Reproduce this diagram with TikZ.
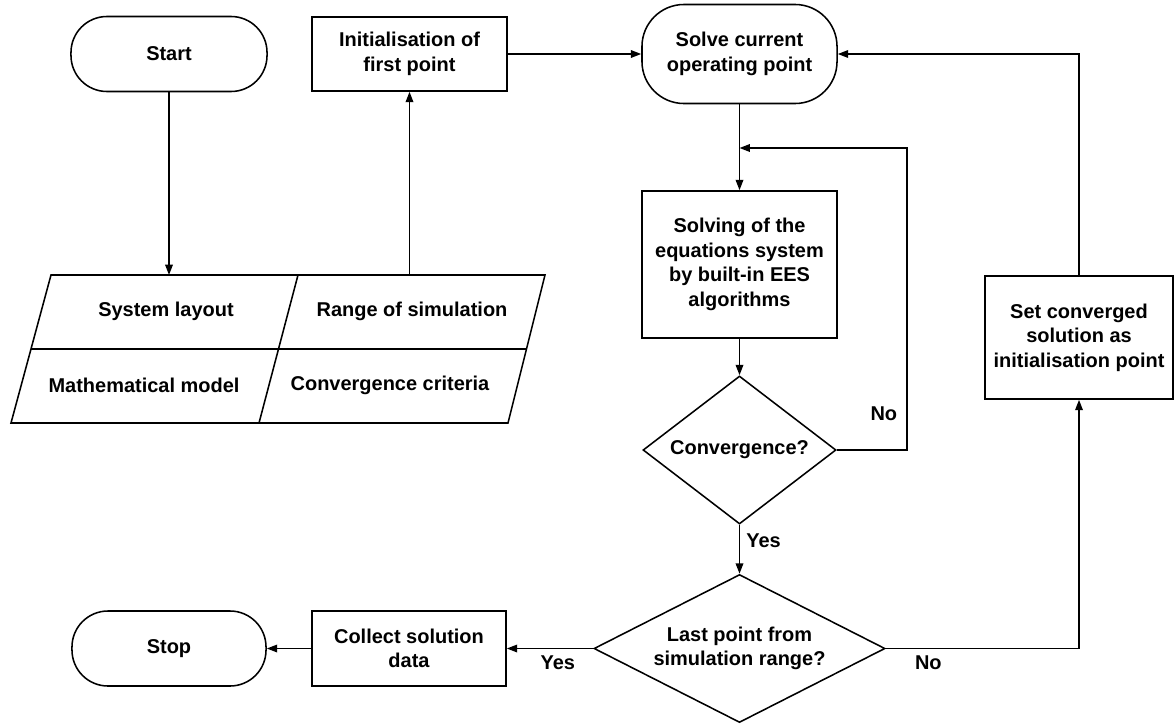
\documentclass[tikz,border=0pt]{standalone}
\usepackage{fontspec}
\setmainfont{Liberation Sans}
\usetikzlibrary{arrows.meta,positioning,shapes.geometric}

\begin{document}
\begin{tikzpicture}[
  x=0.025cm, y=-0.025cm,
  every node/.style={font=\fontsize{14.2}{17.4}\selectfont\bfseries},
  term/.style={draw,line width=1.1pt,rounded corners=0.9cm,align=center,
    minimum width=4.9cm,minimum height=1.875cm},
  proc/.style={draw,line width=1.1pt,align=center,
    minimum width=4.875cm,minimum height=1.85cm},
  dec/.style={draw,diamond,line width=1.1pt,align=center,inner sep=1pt},
  flow/.style={-{Triangle[length=2.6mm,width=1.9mm]},line width=1.1pt}
]
  \useasboundingbox (0,0) rectangle (1174,723);
  % top row
  \node[term] (start) at (169,54) {Start};
  \node[proc] (init) at (409.5,54) {Initialisation of\\first point};
  \node[term,rounded corners=1.05cm,minimum width=4.875cm,minimum height=2.475cm]
    (solve) at (739.5,54) {Solve current\\operating point};
  % main column
  \node[proc,minimum height=3.675cm] (eqs) at (739.5,264.5)
    {Solving of the\\equations system\\by built-in EES\\algorithms};
  \node[dec,aspect=1.3,minimum width=4.825cm,minimum height=3.7cm] (conv) at (739.5,450) {Convergence?};
  \node[dec,aspect=1.97,minimum width=7.275cm,minimum height=3.7cm] (last) at (739.5,648.5)
    {Last point from\\simulation range?};
  \node[proc,minimum width=4.7cm,minimum height=3.075cm] (setpt) at (1079,337.5)
    {Set converged\\solution as\\initialisation point};
  % bottom row
  \node[proc,minimum width=4.85cm,minimum height=1.875cm] (collect) at (409,648.5) {Collect solution\\data};
  \node[term,minimum width=4.85cm] (stop) at (169,648.5) {Stop};
  % input block
  \draw[line width=1.1pt] (51,275) -- (545,275) -- (508,423) -- (11,423) -- cycle;
  \draw[line width=1.1pt] (31,349) -- (527,349);
  \draw[line width=1.1pt] (298,275) -- (259,423);
  \node (layout) at (166,311) {System layout};
  \node (range) at (412,311) {Range of simulation};
  \node (model) at (144,385) {Mathematical model};
  \node (crit) at (390,385) {Convergence criteria};
  \coordinate (inA) at (169,275);
  \coordinate (inB) at (409.5,275);
  \coordinate (merge) at (739.5,148);
  % connectors
  \draw[flow] (start) -- (inA);
  \draw[flow] (inB) -- (init);
  \draw[flow] (init) -- (solve);
  \draw[flow] (solve) -- (eqs);
  \draw[flow] (eqs) -- (conv);
  \draw[flow] (conv.east) -- ++(70,0) |- node[pos=0.06,left=3pt]{No} (merge);
  \draw[flow] (conv) -- node[pos=0.32,right=1pt]{Yes} (last);
  \draw[flow] (last) -- node[pos=0.41,below=1pt]{Yes} (collect);
  \draw[flow] (collect) -- (stop);
  \draw[flow] (last.east) -| node[pos=0.11,below=1pt]{No} (setpt.south);
  \draw[flow] (setpt.north) |- (solve.east);
\end{tikzpicture}
\end{document}
